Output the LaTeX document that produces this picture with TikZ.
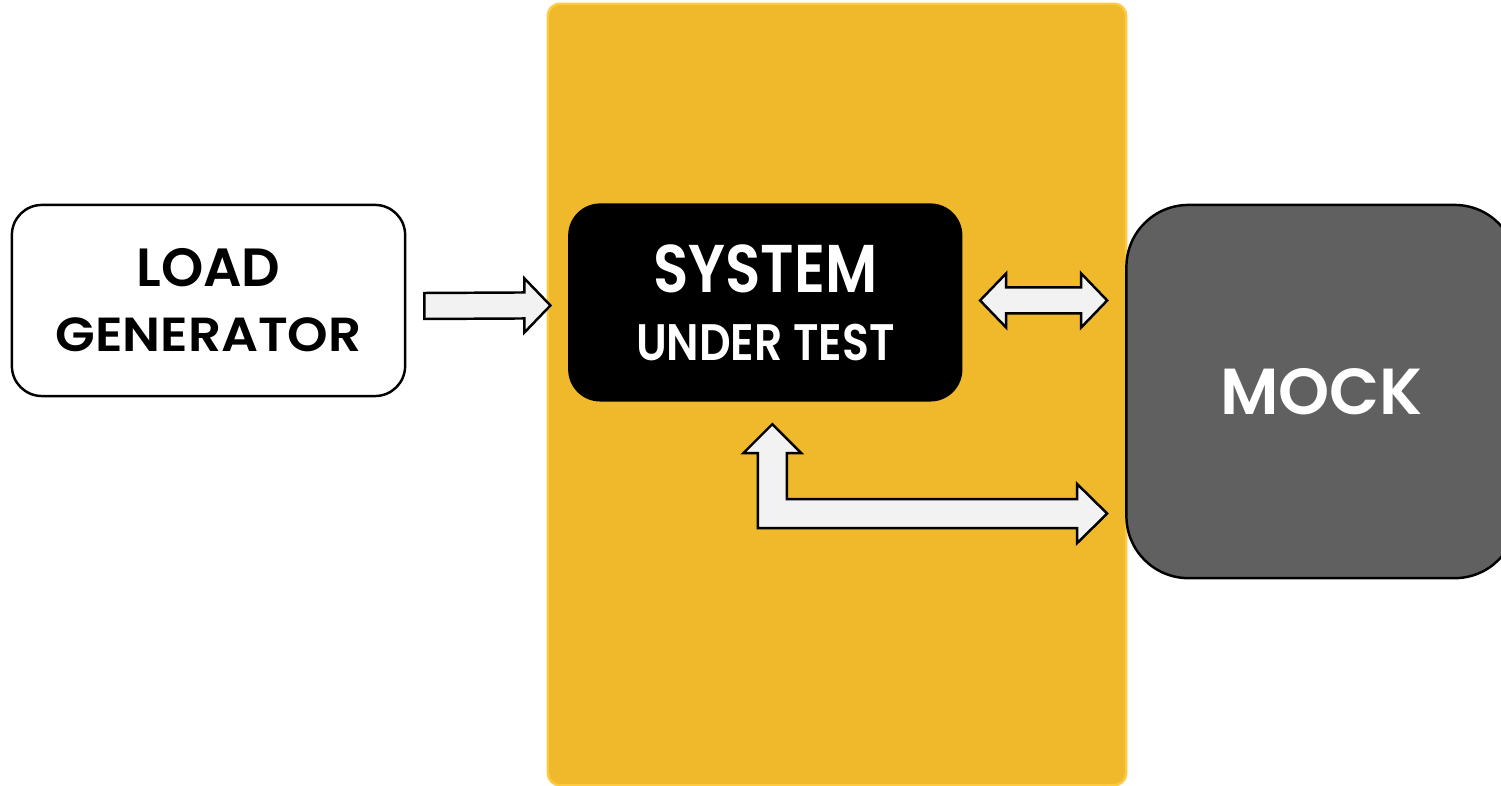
\documentclass[tikz,border=0pt]{standalone}
\usepackage{fontspec}
\setsansfont{Poppins}[BoldFont={Poppins SemiBold}]
\newfontfamily\narrowfont[FakeStretch=0.86, BoldFont={Poppins SemiBold}]{Poppins}
\newfontfamily\widefont[FakeStretch=1.08, BoldFont={Poppins SemiBold}]{Poppins}
\usetikzlibrary{positioning,calc}
\definecolor{tsYellow}{RGB}{239,185,43}
\definecolor{tsYellowEdge}{RGB}{255,202,64}
\definecolor{tsGray}{RGB}{96,96,96}
\definecolor{tsArrow}{RGB}{242,242,242}
\tikzset{
    base/.style={align=center, inner sep=0pt},
    stagebox/.style={rectangle, rounded corners=0.12cm, draw=tsYellowEdge, line width=0.7pt,
                     fill=tsYellow, minimum width=5.78cm, minimum height=7.81cm},
    driver/.style={base, rectangle, rounded corners=0.3cm, draw=black, line width=0.7pt,
                   fill=white, text=black, minimum width=3.93cm, minimum height=1.91cm,
                   font=\sffamily\bfseries\fontsize{15.3}{18.5}\selectfont},
    target/.style={base, rectangle, rounded corners=0.32cm, fill=black, text=white,
                   minimum width=3.94cm, minimum height=1.98cm,
                   font=\narrowfont\bfseries\fontsize{19.2}{19.3}\selectfont},
    stub/.style={base, rectangle, rounded corners=0.62cm, draw=black, line width=0.7pt,
                 fill=tsGray, text=white, minimum width=3.9cm, minimum height=3.73cm,
                 font=\sffamily\bfseries\fontsize{18.5}{19}\selectfont},
    blockarrow/.style={draw=black, fill=tsArrow, line width=0.7pt, line join=miter}
}

\begin{document}
\begin{tikzpicture}[x=0.01cm, y=-0.01cm]
  \useasboundingbox (0,0) rectangle (1501,786);
  \clip (0,0) rectangle (1501,786);

  % Test stage
  \node[stagebox] (stage) at (837,394.5) {};

  % Blocks
  \node[driver] (load) at (208.5,300.5)
    {LOAD\\ \widefont\bfseries\fontsize{13.6}{18.5}\selectfont GENERATOR};
  \node[target, right=1.61cm of load.north east, anchor=north west, yshift=0.01cm] (sut)
    {SYSTEM\\ \fontsize{14.6}{19.3}\selectfont UNDER TEST};
  \node[stub, right=1.62cm of sut.north east, anchor=north west, yshift=-0.01cm] (mock)
    {MOCK};

  % Arrows
  \coordinate (inTail) at ($(load.east)+(18,5.5)$);
  \coordinate (inTip) at ($(sut.west)+(-17,3)$);
  \draw[blockarrow] ($(inTail)+(0,-13)$) -- ($(inTip)+(-26,-13)$) -- ($(inTip)+(-26,-27)$)
    -- (inTip) -- ($(inTip)+(-26,27)$) -- ($(inTip)+(-26,13)$) -- ($(inTail)+(0,13)$) -- cycle;

  \coordinate (dblL) at ($(sut.east)+(17,-2)$);
  \coordinate (dblR) at ($(dblL -| mock.west)+(-18,0)$);
  \draw[blockarrow] (dblL) -- ($(dblL)+(26,-27)$) -- ($(dblL)+(26,-13)$) -- ($(dblR)+(-26,-13)$)
    -- ($(dblR)+(-26,-27)$) -- (dblR) -- ($(dblR)+(-26,27)$) -- ($(dblR)+(-26,13)$)
    -- ($(dblL)+(26,13)$) -- ($(dblL)+(26,27)$) -- cycle;

  \coordinate (upTip) at ($(sut.south)+(7,22)$);
  \coordinate (backTip) at ($(mock.west)+(-18,122)$);
  \coordinate (bend) at (upTip |- backTip);
  \draw[blockarrow] (upTip) -- ($(upTip)+(29,29)$) -- ($(upTip)+(14.5,29)$) -- ($(bend)+(14.5,-14.5)$)
    -- ($(backTip)+(-30,-14.5)$) -- ($(backTip)+(-30,-29.5)$) -- (backTip) -- ($(backTip)+(-30,29.5)$)
    -- ($(backTip)+(-30,14.5)$) -- ($(bend)+(-14.5,14.5)$) -- ($(upTip)+(-14.5,29)$)
    -- ($(upTip)+(-29,29)$) -- cycle;
\end{tikzpicture}
\end{document}
